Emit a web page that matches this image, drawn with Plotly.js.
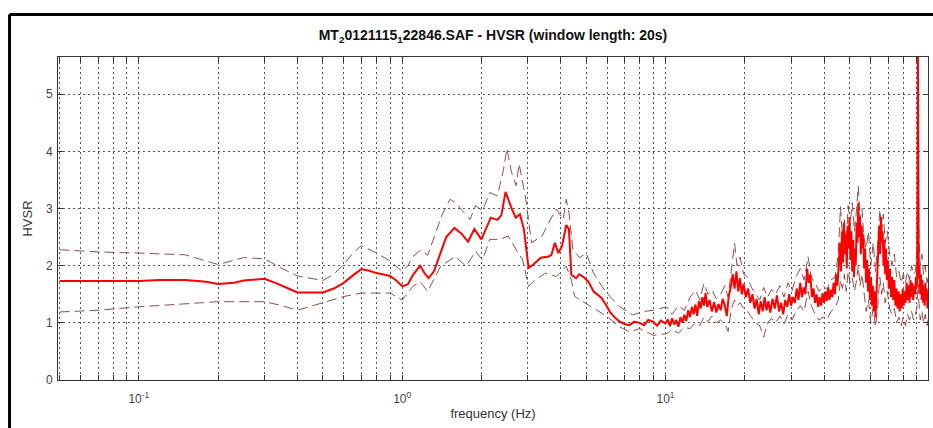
<!DOCTYPE html>
<html>
<head>
<meta charset="utf-8">
<script src="https://cdn.plot.ly/plotly-3.0.1.min.js"></script>
<style>
html,body{margin:0;padding:0;background:#fff;}
#chart{width:933px;height:428px;}
</style>
</head>
<body>
<div id="chart"></div>
<script>
// ---- data ----
var freqMean = [0.05,0.06,0.08,0.1,0.12,0.15,0.18,0.2,0.23,0.25,
0.3,0.33,0.37,0.4,0.45,0.5,0.55,0.6,0.65,0.7,
0.75,0.8,0.9,0.95,1.0,1.05,1.1,1.17,1.22,1.26,
1.32,1.4,1.47,1.58,1.68,1.78,1.88,2.0,2.1,2.17,
2.3,2.38,2.47,2.55,2.62,2.7,2.8,2.9,2.96,3.02,
3.15,3.36,3.6,3.69,3.8,3.92,4.05,4.12,4.2,4.3,
4.39,4.58,4.7,4.86,5.1,5.33,5.5,5.73,6.0,6.15,
6.4,6.7,7.0,7.31,7.6,7.99,8.3,8.6,8.97,9.3,
9.6,
10.0,10.2,10.4,10.6,10.8,11.0,11.2,11.4,11.6,11.8,
12.0,12.2,12.4,12.6,12.8,13.0,13.2,13.4,13.6,13.8,
14.0,14.2,14.4,14.7,15.0,15.3,15.6,15.9,16.2,16.5,
16.8,17.1,17.4,17.7,18.0,18.3,18.6,18.9,19.2,19.5,
19.8,20.2,20.6,21.0,21.4,21.8,22.2,22.6,23.0,23.4,
23.8,24.2,24.6,25.0,25.5,26.0,26.5,27.0,27.5,28.0,
28.5,29.0,29.5,30.0,30.5,31.0,31.5,32.0,32.5,33.0,
33.5,34.0,34.5,35.0,35.5,36.0,36.5,37.0,37.5,38.0,
38.5,39.0,39.5,40.0,40.5,41.0,41.5,42.0,42.5,43.0,
43.5,44.0,44.5,45.0,45.5,46.0,46.4,46.8,47.2,47.6,
48.0,48.4,48.8,49.2,49.6,50.0,50.4,50.8,51.2,51.6,
52.0,52.4,52.8,53.2,53.6,54.0,54.4,54.8,55.2,55.6,
56.0,56.4,56.8,57.3,57.8,58.3,58.8,59.3,59.8,60.3,
60.8,61.3,61.8,62.3,62.8,63.3,63.8,64.3,64.8,65.3,
65.8,66.3,66.8,67.3,67.8,68.3,68.8,69.3,69.8,70.5,
71.2,71.9,72.6,73.3,74.0,74.7,75.4,76.1,76.8,77.5,
78.2,78.9,79.6,80.3,81.0,81.7,82.4,83.1,83.8,84.5,
85.2,85.9,86.6,87.3,88.0,88.7,89.4,90.0,90.5,90.9,
91.2,91.6,92.2,92.8,93.4,94.0,94.6,95.2,95.8,96.4,
97.0,97.6,98.2,98.8,99.4,100];
var hvsrMean = [1.73,1.73,1.73,1.73,1.75,1.75,1.72,1.68,1.70,1.74,
1.77,1.70,1.60,1.53,1.53,1.53,1.60,1.70,1.83,1.94,
1.91,1.87,1.82,1.74,1.64,1.67,1.84,2.00,1.86,1.78,
1.90,2.25,2.50,2.66,2.56,2.42,2.64,2.46,2.70,2.84,
2.80,2.88,3.29,3.10,2.97,2.84,2.90,2.64,2.30,1.96,
2.02,2.14,2.16,2.19,2.40,2.22,2.35,2.50,2.71,2.64,
1.84,1.78,1.85,1.81,1.72,1.55,1.50,1.43,1.28,1.19,
1.10,1.02,0.98,0.96,1.02,1.00,0.96,1.05,1.02,0.95,
1.04,
0.99,1.06,0.94,1.08,0.97,1.05,0.93,1.10,1.00,1.14,
1.03,1.22,1.10,1.28,1.15,1.32,1.12,1.38,1.25,1.45,
1.30,1.52,1.28,1.40,1.20,1.36,1.18,1.33,1.22,1.42,
1.30,1.12,1.48,1.62,1.85,1.60,1.90,1.55,1.78,1.50,
1.68,1.45,1.60,1.35,1.50,1.25,1.42,1.15,1.38,1.20,
1.45,1.22,1.38,1.18,1.42,1.25,1.48,1.20,1.35,1.15,
1.40,1.28,1.50,1.30,1.45,1.35,1.60,1.40,1.70,1.45,
1.62,1.50,1.95,1.70,1.85,1.45,1.60,1.35,1.50,1.28,
1.45,1.30,1.52,1.35,1.55,1.38,1.62,1.40,1.58,1.45,
1.70,1.50,1.85,1.65,2.10,2.40,1.90,2.60,2.05,2.75,
2.20,2.55,1.95,2.70,2.30,2.85,2.10,2.60,1.90,2.45,
1.80,2.30,2.00,2.75,2.40,3.10,2.50,2.85,2.20,2.70,
2.30,2.55,1.95,2.30,1.70,2.10,1.55,1.95,1.40,1.80,
1.30,1.65,1.20,1.55,1.10,1.60,1.90,2.30,2.70,2.20,
2.85,2.40,2.60,2.00,2.45,1.85,2.30,1.75,2.10,1.60,
1.95,1.45,1.80,1.40,1.75,1.30,1.60,1.25,1.55,1.20,
1.50,1.25,1.60,1.30,1.55,1.35,1.70,1.40,1.65,1.35,
1.75,1.45,1.70,1.40,1.65,1.50,1.80,1.60,2.10,5.80,
2.40,1.80,2.00,1.50,1.85,1.40,1.75,1.35,1.65,1.30,
1.70,1.40,1.60,1.25,1.55,1.40];

var freqUpper = [0.05,0.07,0.1,0.15,0.2,0.25,0.3,0.35,0.4,0.5,0.55,0.6,0.65,0.7,0.8,0.9,1.0,1.05,1.1,1.18,1.25,1.32,1.42,1.52,1.6,1.7,1.81,1.9,2.02,2.15,2.3,2.42,2.5,2.6,2.71,2.78,2.95,3.1,3.4,3.6,3.85,4.09,4.2,4.3,4.45,4.72,5.0,5.33,5.73,6.15,6.7,7.5,8.3,9.0,
10.1,10.6,11.2,11.8,12.4,13.0,13.5,14.0,14.5,15.0,15.6,16.2,16.8,17.3,17.8,18.3,18.7,19.2,19.8,20.5,21.2,22.0,22.8,23.6,24.4,25.3,26.2,27.2,28.2,29.2,30.2,31.3,32.5,33.6,34.8,35.8,37.0,38.3,39.7,41.0,42.5,44.0,45.3,46.2,47.0,47.8,48.6,49.4,50.2,51.2,52.2,53.2,54.0,54.8,55.8,56.6,57.8,59.0,60.2,61.5,62.8,64.0,65.2,66.2,67.2,68.3,69.6,71.0,72.5,74.0,75.5,77.0,78.5,80.0,81.5,83.0,84.5,86.0,87.5,89.0,90.3,91.0,91.6,92.8,94.2,95.5,97.0,98.5,100];
var hvsrUpper = [2.28,2.24,2.22,2.19,2.02,2.14,2.12,1.95,1.82,1.74,1.85,2.02,2.22,2.35,2.22,2.08,1.90,2.00,2.16,2.28,2.18,2.50,2.90,3.16,3.10,2.95,2.81,3.05,2.96,3.28,3.22,3.66,4.05,3.64,3.40,3.78,3.16,2.40,2.52,2.75,2.99,2.81,3.16,2.93,2.28,2.14,2.22,1.87,1.64,1.46,1.28,1.14,1.20,1.22,
1.28,1.15,1.30,1.22,1.45,1.57,1.40,1.69,1.50,1.58,1.42,1.50,1.65,1.45,1.92,2.39,2.00,2.15,1.85,1.80,1.62,1.50,1.40,1.62,1.45,1.58,1.50,1.65,1.45,1.70,1.55,1.80,1.95,1.75,2.16,1.80,1.70,1.55,1.65,1.58,1.75,1.80,2.20,3.03,2.50,2.80,2.40,3.05,2.70,3.10,2.60,3.00,3.39,2.80,3.00,2.50,2.30,2.60,2.00,2.40,1.90,2.40,2.98,2.60,2.90,2.40,2.60,2.20,2.00,2.20,1.80,1.90,1.70,1.85,1.70,1.90,1.75,2.00,1.85,1.90,2.30,5.80,2.50,2.00,2.20,1.85,2.00,1.70,1.85];

var freqLower = [0.05,0.07,0.1,0.15,0.2,0.3,0.35,0.4,0.5,0.6,0.7,0.9,1.0,1.1,1.17,1.25,1.4,1.59,1.75,1.9,2.02,2.15,2.35,2.53,2.71,2.87,3.02,3.2,3.5,3.85,4.2,4.39,4.52,5.0,5.5,6.0,6.7,7.31,8.0,9.0,
10.1,10.6,11.2,11.8,12.4,13.0,13.5,14.0,14.5,15.0,15.6,16.2,16.8,17.3,17.8,18.3,18.7,19.2,19.8,20.5,21.2,22.0,22.8,23.6,24.4,25.3,26.2,27.2,28.2,29.2,30.2,31.3,32.5,33.6,34.8,35.8,37.0,38.3,39.7,41.0,42.5,44.0,45.3,46.2,47.0,47.8,48.6,49.4,50.2,51.2,52.2,53.2,54.0,54.8,55.8,56.6,57.8,59.0,60.2,61.5,62.8,64.0,65.2,66.2,67.2,68.3,69.6,71.0,72.5,74.0,75.5,77.0,78.5,80.0,81.5,83.0,84.5,86.0,87.5,89.0,90.3,91.0,91.6,92.8,94.2,95.5,97.0,98.5,100];
var hvsrLower = [1.19,1.22,1.28,1.33,1.37,1.37,1.30,1.22,1.35,1.46,1.52,1.52,1.40,1.64,1.72,1.55,1.99,2.16,1.99,2.25,2.10,2.46,2.46,2.52,2.28,2.10,1.64,1.75,1.87,1.81,1.99,1.75,1.46,1.34,1.22,1.11,0.93,0.84,0.90,0.78,
0.81,0.88,0.82,0.92,0.90,1.00,0.95,1.10,1.02,1.12,1.00,1.05,0.98,0.85,1.25,1.40,1.30,1.35,1.25,1.20,1.10,1.00,0.95,0.75,1.00,1.08,1.00,1.12,0.98,1.15,1.05,1.20,1.30,1.20,1.55,1.30,1.15,1.05,1.10,1.05,1.20,1.25,1.40,1.75,1.60,1.85,1.55,1.90,1.70,1.80,1.55,1.75,2.00,1.65,1.85,1.55,1.20,1.40,1.00,1.25,0.93,1.30,1.80,1.50,1.70,1.35,1.55,1.25,1.15,1.25,1.00,1.10,0.95,1.10,0.95,1.15,1.05,1.20,1.05,1.15,1.30,2.20,1.40,1.05,1.20,1.00,1.15,0.95,1.10];

var xMajorTicks = [0.1,1,10,100];
var xMajorText = ['10<sup>-1</sup>','10<sup>0</sup>','10<sup>1</sup>','10<sup>2</sup>'];
var xMinorTicks = [0.05,0.06,0.07,0.08,0.09,0.2,0.3,0.4,0.5,0.6,0.7,0.8,0.9,2,3,4,5,6,7,8,9,20,30,40,50,60,70,80,90];
var yTickVals = [0,1,2,3,4,5];

var titleText = 'MT<sub>2</sub>0121115<sub>1</sub>22846.SAF - HVSR (window length: 20s)';
var xTitle = 'frequency (Hz)';
var yTitle = 'HVSR';

var FONT = 'Liberation Sans, Arial, Helvetica, sans-serif';
var bandColor = 'rgba(130,45,45,0.85)';
var gridStyle = {showgrid: true, gridcolor: '#555', gridwidth: 1, griddash: '2px,3px'};

var traces = [
  {x: freqUpper, y: hvsrUpper, type: 'scatter', mode: 'lines', line: {color: bandColor, width: 1, dash: '10px,5px'}, hoverinfo: 'skip'},
  {x: freqLower, y: hvsrLower, type: 'scatter', mode: 'lines', line: {color: bandColor, width: 1, dash: '10px,5px'}, hoverinfo: 'skip'},
  {x: freqMean, y: hvsrMean, type: 'scatter', mode: 'lines', line: {color: '#ff0000', width: 2}}
];

var axisCommon = Object.assign({
  showline: true, linecolor: '#333', linewidth: 1, mirror: 'ticks',
  ticks: 'inside', ticklen: 5, tickcolor: '#333', tickwidth: 1,
  zeroline: false,
  tickfont: {family: FONT, size: 12, color: '#444'}
}, gridStyle);

var layout = {
  width: 933, height: 428,
  margin: {l: 58, r: 5, t: 57, b: 48, pad: 0},
  paper_bgcolor: '#fff', plot_bgcolor: '#fff',
  showlegend: false,
  font: {family: FONT, size: 12, color: '#222'},
  title: {text: titleText, font: {family: FONT, size: 14, color: '#111', weight: 'bold'},
          x: 0.5, xref: 'paper', xanchor: 'center', y: 1 - 35/428, yref: 'container', yanchor: 'middle'},
  xaxis: Object.assign({}, axisCommon, {
    type: 'log', range: [-1.307, 1.997],
    tickmode: 'array', tickvals: xMajorTicks, ticktext: xMajorText,
    ticklabelstandoff: 8,
    minor: Object.assign({tickmode: 'array', tickvals: xMinorTicks, ticks: 'inside', ticklen: 5, tickcolor: '#333', tickwidth: 1}, gridStyle),
    title: {text: xTitle, font: {family: FONT, size: 13, color: '#333'}, standoff: 3}
  }),
  yaxis: Object.assign({}, axisCommon, {
    range: [0, 5.65], tickmode: 'array', tickvals: yTickVals,
    ticklabelstandoff: 2,
    title: {text: yTitle, font: {family: FONT, size: 13, color: '#333'}, standoff: 10}
  }),
  shapes: [
    {type: 'line', xref: 'paper', yref: 'paper', x0: -0.0557, x1: -0.0557, y0: -0.2, y1: 1.1316, line: {color: '#000', width: 3}},
    {type: 'line', xref: 'paper', yref: 'paper', x0: -0.0557, x1: 1.1, y0: 1.1316, y1: 1.1316, line: {color: '#000', width: 3}}
  ]
};

Plotly.newPlot('chart', traces, layout, {staticPlot: true, displayModeBar: false});
</script>
</body>
</html>
